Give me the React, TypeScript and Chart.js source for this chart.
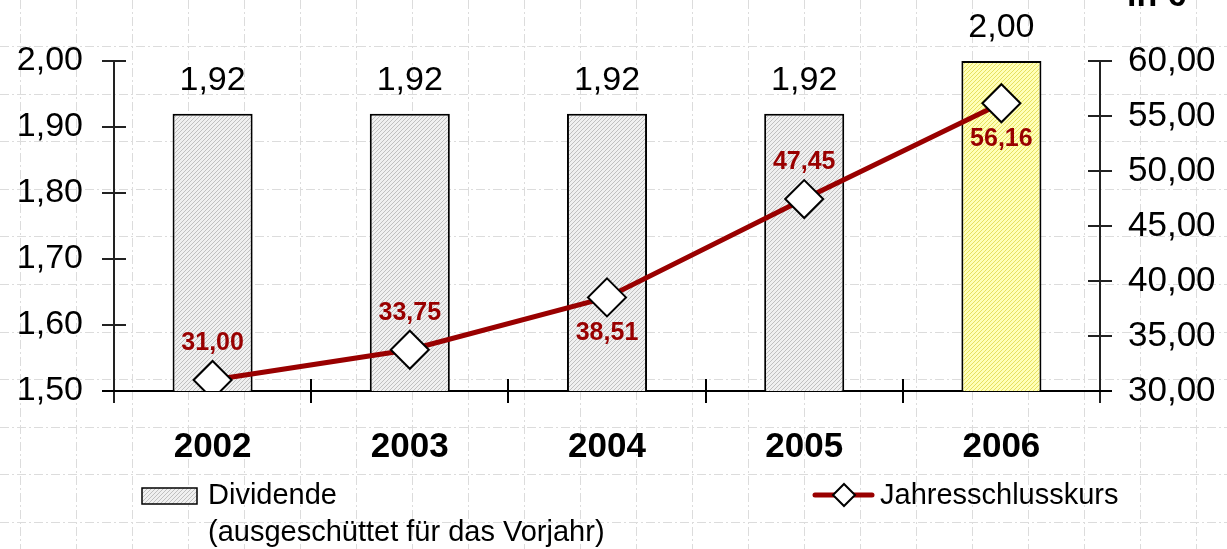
import React, { useEffect, useRef } from 'react';
import { Chart, registerables } from 'chart.js';

Chart.register(...registerables);

const categories = ['2002', '2003', '2004', '2005', '2006'];
const dividend = [1.92, 1.92, 1.92, 1.92, 2.0];
const closingPrice = [31.0, 33.75, 38.51, 47.45, 56.16];
const leftRange = [1.5, 2.0];
const leftStep = 0.1;
const rightRange = [30, 60];
const rightStep = 5;
const priceLabelSide = ['above', 'above', 'below', 'above', 'below'];
const highlightIndex = 4;
const legendDividend = ['Dividende', '(ausgeschüttet für das Vorjahr)'];
const legendPrice = 'Jahresschlusskurs';
const unitText = 'in €';

const FONT = '"Liberation Sans", Arial, sans-serif';
const RED = '#990000';

const fmt = (v: number) => v.toFixed(2).replace('.', ',');

function makePattern(base: string, line: string): CanvasPattern | string {
  const c = document.createElement('canvas');
  c.width = 4;
  c.height = 4;
  const g = c.getContext('2d');
  if (!g) return base;
  g.fillStyle = base;
  g.fillRect(0, 0, 4, 4);
  g.strokeStyle = line;
  g.lineWidth = 1;
  g.beginPath();
  g.moveTo(0, 4);
  g.lineTo(4, 0);
  g.moveTo(-1, 1);
  g.lineTo(1, -1);
  g.moveTo(3, 5);
  g.lineTo(5, 3);
  g.stroke();
  const p = g.createPattern(c, 'repeat');
  return p || base;
}

const pageGrid = {
  id: 'pageGrid',
  beforeDraw(chart: any) {
    const { ctx, width, height } = chart;
    ctx.save();
    ctx.fillStyle = '#ffffff';
    ctx.fillRect(0, 0, width, height);
    ctx.strokeStyle = '#dcdcdc';
    ctx.lineWidth = 1;
    ctx.setLineDash([9, 3, 2, 3]);
    ctx.beginPath();
    for (let x = 20; x < width; x += 56) {
      ctx.moveTo(x + 0.5, 0);
      ctx.lineTo(x + 0.5, height);
    }
    for (let y = 46; y < height; y += 47.6) {
      ctx.moveTo(0, Math.round(y) + 0.5);
      ctx.lineTo(width, Math.round(y) + 0.5);
    }
    ctx.stroke();
    ctx.restore();
  },
};

const axesPlugin = {
  id: 'axesPlugin',
  beforeDatasetsDraw(chart: any) {
    const { ctx, chartArea, scales } = chart;
    const { left, right, top, bottom } = chartArea;
    const T = 12;
    ctx.save();
    ctx.setLineDash([]);
    ctx.lineWidth = 2;
    ctx.strokeStyle = '#222222';
    ctx.beginPath();
    ctx.moveTo(left, top);
    ctx.lineTo(left, bottom + T);
    for (let v = leftRange[0]; v <= leftRange[1] + 1e-9; v += leftStep) {
      const y = Math.round(scales.y.getPixelForValue(v));
      ctx.moveTo(left - T, y);
      ctx.lineTo(left + T, y);
    }
    ctx.moveTo(right, top);
    ctx.lineTo(right, bottom + T);
    for (let v = rightRange[0]; v <= rightRange[1] + 1e-9; v += rightStep) {
      const y = Math.round(scales.y1.getPixelForValue(v));
      ctx.moveTo(right - T, y);
      ctx.lineTo(right + T, y);
    }
    ctx.stroke();
    ctx.strokeStyle = '#000000';
    ctx.beginPath();
    ctx.moveTo(left - T, bottom);
    ctx.lineTo(right + T, bottom);
    const n = categories.length;
    for (let i = 1; i < n; i++) {
      const x = Math.round(
        (scales.x.getPixelForValue(i - 1) + scales.x.getPixelForValue(i)) / 2
      );
      ctx.moveTo(x, bottom - T);
      ctx.lineTo(x, bottom + T);
    }
    ctx.stroke();
    ctx.restore();
  },
};

const labelsPlugin = {
  id: 'labelsPlugin',
  afterDatasetsDraw(chart: any) {
    const { ctx } = chart;
    ctx.save();
    ctx.textAlign = 'center';
    ctx.textBaseline = 'middle';
    const barMeta = chart.getDatasetMeta(0);
    ctx.fillStyle = '#000000';
    ctx.font = `34px ${FONT}`;
    barMeta.data.forEach((el: any, i: number) => {
      ctx.fillText(fmt(dividend[i]), el.x, el.y - 33);
    });
    const lineMeta = chart.getDatasetMeta(1);
    ctx.fillStyle = RED;
    ctx.font = `bold 25px ${FONT}`;
    lineMeta.data.forEach((el: any, i: number) => {
      const dy = priceLabelSide[i] === 'above' ? -37 : 36;
      ctx.fillText(fmt(closingPrice[i]), el.x, el.y + dy);
    });
    ctx.restore();
  },
  afterDraw(chart: any) {
    const { ctx } = chart;
    ctx.save();
    ctx.setLineDash([]);
    ctx.fillStyle = '#000000';
    ctx.font = `bold 34px ${FONT}`;
    ctx.textAlign = 'left';
    ctx.textBaseline = 'alphabetic';
    ctx.fillText(unitText, 1127, 6);
    const ds0 = chart.data.datasets[0];
    ctx.fillStyle = ds0.backgroundColor[0];
    ctx.fillRect(142, 488, 55, 16);
    ctx.strokeStyle = '#000000';
    ctx.lineWidth = 1.5;
    ctx.strokeRect(142, 488, 55, 16);
    ctx.fillStyle = '#000000';
    ctx.font = `29px ${FONT}`;
    ctx.textBaseline = 'middle';
    ctx.fillText(legendDividend[0], 208, 496);
    ctx.fillText(legendDividend[1], 208, 533);
    ctx.strokeStyle = RED;
    ctx.lineWidth = 5;
    ctx.lineCap = 'round';
    ctx.beginPath();
    ctx.moveTo(815, 495);
    ctx.lineTo(872, 495);
    ctx.stroke();
    ctx.lineCap = 'butt';
    ctx.fillStyle = '#ffffff';
    ctx.strokeStyle = '#000000';
    ctx.lineWidth = 2;
    ctx.beginPath();
    ctx.moveTo(844, 484);
    ctx.lineTo(855, 495);
    ctx.lineTo(844, 506);
    ctx.lineTo(833, 495);
    ctx.closePath();
    ctx.fill();
    ctx.stroke();
    ctx.fillStyle = '#000000';
    ctx.fillText(legendPrice, 880, 496);
    ctx.restore();
  },
};

export default function App() {
  const ref = useRef<HTMLCanvasElement | null>(null);

  useEffect(() => {
    document.body.style.margin = '0';
    const canvas = ref.current;
    if (!canvas) return;
    const gray = makePattern('#f0f0f0', '#c0c0c0');
    const yellow = makePattern('#ffffb8', '#e6e060');
    const barColors = categories.map((_, i) => (i === highlightIndex ? yellow : gray));

    const chart = new Chart(canvas, {
      type: 'bar',
      data: {
        labels: categories,
        datasets: [
          {
            type: 'bar',
            label: legendDividend.join(' '),
            data: dividend,
            yAxisID: 'y',
            backgroundColor: barColors as any,
            borderColor: '#000000',
            borderWidth: 2,
            borderSkipped: false,
            categoryPercentage: 1,
            barPercentage: 0.406,
            order: 2,
          } as any,
          {
            type: 'line',
            label: legendPrice,
            data: closingPrice,
            yAxisID: 'y1',
            borderColor: RED,
            borderWidth: 5,
            tension: 0,
            fill: false,
            pointStyle: 'rectRot',
            pointRadius: 19,
            pointHoverRadius: 19,
            pointBackgroundColor: '#ffffff',
            pointBorderColor: '#000000',
            pointBorderWidth: 2,
            order: 1,
          } as any,
        ],
      },
      options: {
        responsive: false,
        animation: false,
        events: [],
        layout: { padding: { top: 61, left: 0, right: 0, bottom: 0 } },
        plugins: {
          legend: { display: false },
          tooltip: { enabled: false },
        },
        scales: {
          x: {
            grid: { display: false, drawTicks: false },
            border: { display: false },
            ticks: {
              color: '#000000',
              font: { family: FONT, size: 35, weight: 'bold' },
              padding: 35,
            },
            afterFit(scale: any) {
              scale.height = 158;
            },
          },
          y: {
            position: 'left',
            min: leftRange[0],
            max: leftRange[1],
            grid: { display: false, drawTicks: false },
            border: { display: false },
            ticks: {
              stepSize: leftStep,
              color: '#000000',
              font: { family: FONT, size: 34 },
              padding: 31,
              callback: (v: any) => fmt(Number(v)),
            },
            afterFit(scale: any) {
              scale.width = 114;
            },
          },
          y1: {
            position: 'right',
            min: rightRange[0],
            max: rightRange[1],
            grid: { display: false, drawTicks: false },
            border: { display: false },
            ticks: {
              stepSize: rightStep,
              color: '#000000',
              font: { family: FONT, size: 35 },
              padding: 28,
              callback: (v: any) => fmt(Number(v)),
            },
            afterFit(scale: any) {
              scale.width = 127;
            },
          },
        },
      } as any,
      plugins: [pageGrid, axesPlugin, labelsPlugin],
    });
    return () => chart.destroy();
  }, []);

  return (
    <div style={{ position: 'fixed', left: 0, top: 0, width: 1227, height: 549 }}>
      <canvas ref={ref} width={1227} height={549} style={{ display: 'block' }} />
    </div>
  );
}
